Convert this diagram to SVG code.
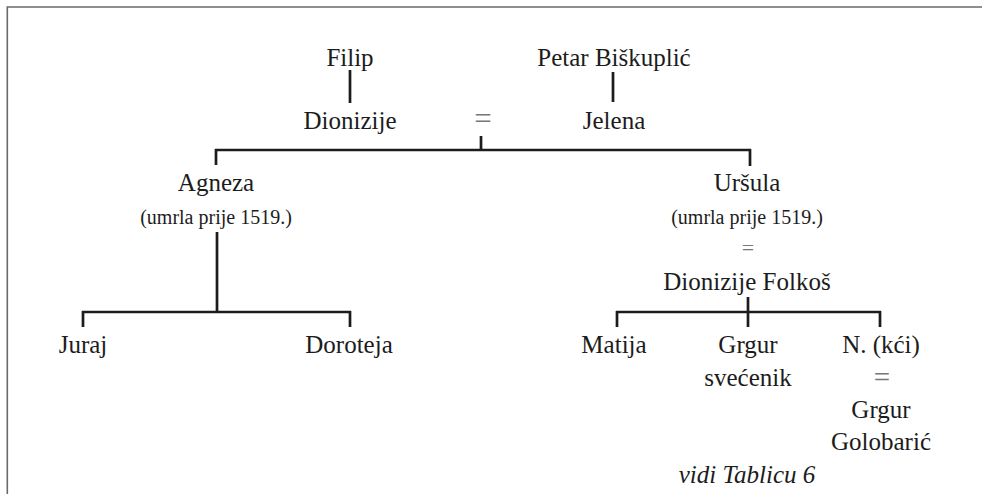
<svg xmlns="http://www.w3.org/2000/svg" width="982" height="494" viewBox="0 0 982 494" font-family="Liberation Serif">
<style>
text{fill:#1c1c1c;text-anchor:middle}
.n{font-size:25px}
.s{font-size:20px}
.eq{fill:#777}
.i{font-style:italic;font-size:25px}
.c line{stroke:#1c1c1c;stroke-width:2.7}
.frame{stroke:#6a6a6a;stroke-width:1.6;fill:none}
</style>
<rect width="982" height="494" fill="#fff"/>
<path class="frame" d="M7.3,494 V7 H982"/>
<g id="connectors" class="c">
<line x1="350" y1="70" x2="350" y2="103"/>
<line x1="613" y1="72" x2="613" y2="102"/>
<line x1="481" y1="136" x2="481" y2="150"/>
<line x1="215" y1="150" x2="751" y2="150"/>
<line x1="216" y1="149" x2="216" y2="165"/>
<line x1="750" y1="149" x2="750" y2="166"/>
<line x1="217" y1="232" x2="217" y2="312"/>
<line x1="82" y1="312" x2="351" y2="312"/>
<line x1="83" y1="311" x2="83" y2="327"/>
<line x1="350" y1="311" x2="350" y2="327"/>
<line x1="748" y1="297" x2="748" y2="327"/>
<line x1="616" y1="312" x2="881" y2="312"/>
<line x1="617" y1="311" x2="617" y2="327"/>
<line x1="880" y1="311" x2="880" y2="327"/>
</g>
<g id="filip"><text class="n" x="350" y="66" font-family="Liberation Serif">Filip</text></g>
<g id="petar"><text class="n" x="614" y="66" font-family="Liberation Serif">Petar Biškuplić</text></g>
<g id="dionizije"><text class="n" x="350" y="129" font-family="Liberation Serif">Dionizije</text></g>
<g id="marriage1"><text class="eq" x="483" y="129" font-size="31" font-family="Liberation Serif">=</text></g>
<g id="jelena"><text class="n" x="614" y="129" font-family="Liberation Serif">Jelena</text></g>
<g id="agneza"><text class="n" x="216" y="191" font-family="Liberation Serif">Agneza</text><text class="s" x="216" y="224" font-family="Liberation Serif">(umrla prije 1519.)</text></g>
<g id="ursula"><text class="n" x="747" y="191" font-family="Liberation Serif">Uršula</text><text class="s" x="747" y="224" font-family="Liberation Serif">(umrla prije 1519.)</text><text class="eq" x="748" y="254.5" font-size="22" font-family="Liberation Serif">=</text></g>
<g id="dionizije-folkos"><text class="n" x="747" y="290" font-family="Liberation Serif">Dionizije Folkoš</text></g>
<g id="juraj"><text class="n" x="83" y="353" font-family="Liberation Serif">Juraj</text></g>
<g id="doroteja"><text class="n" x="349" y="353" font-family="Liberation Serif">Doroteja</text></g>
<g id="matija"><text class="n" x="614" y="353" font-family="Liberation Serif">Matija</text></g>
<g id="grgur"><text class="n" x="748" y="353" font-family="Liberation Serif">Grgur</text><text class="n" x="748" y="386" font-family="Liberation Serif">svećenik</text></g>
<g id="n-kci"><text class="n" x="881" y="353" font-family="Liberation Serif">N. (kći)</text><text class="eq" x="882" y="387" font-size="29" font-family="Liberation Serif">=</text><text class="n" x="881" y="418" font-family="Liberation Serif">Grgur</text><text class="n" x="881" y="450" font-family="Liberation Serif">Golobarić</text></g>
<g id="note"><text class="i" x="747" y="483" font-family="Liberation Serif">vidi Tablicu 6</text></g>
</svg>
